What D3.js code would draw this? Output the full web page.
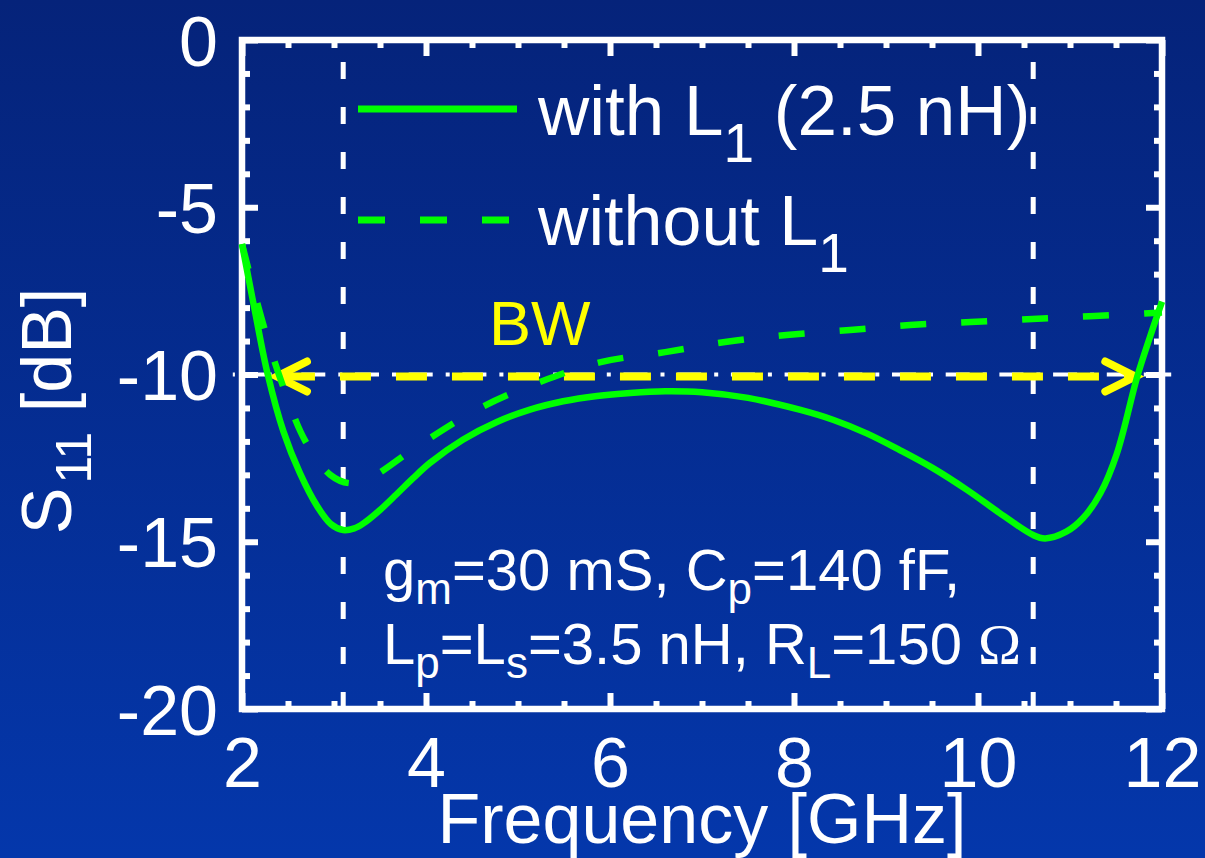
<!DOCTYPE html>
<html>
<head>
<meta charset="utf-8">
<script src="https://cdn.jsdelivr.net/npm/d3@7"></script>
<style>
  html, body { margin: 0; padding: 0; background: #052a90; }
  svg { display: block; }
  text { font-family: Arial, "Liberation Sans", Helvetica, sans-serif; }
</style>
</head>
<body>
<svg id="chart" width="1205" height="858"></svg>
<script>
// S11 of the wideband LNA input match, with and without the series inductor L1
const freqWithL1 = [2.0, 2.14, 2.28, 2.45, 2.63, 2.82, 2.97, 3.1, 3.22, 3.32, 3.5, 3.68, 3.86, 4.04, 4.4, 4.77, 5.13, 5.49, 5.86, 6.22, 6.6, 7.0, 7.5, 8.07, 8.43, 8.79, 9.15, 9.51, 9.88, 10.24, 10.6, 10.73, 10.96, 11.14, 11.33, 11.51, 11.73, 11.87, 12.0];
const s11WithL1  = [-6.1, -8.1, -10.0, -11.7, -12.95, -13.95, -14.48, -14.65, -14.6, -14.45, -14.05, -13.58, -13.1, -12.65, -11.95, -11.42, -11.05, -10.8, -10.64, -10.55, -10.5, -10.53, -10.7, -11.06, -11.36, -11.76, -12.26, -12.8, -13.45, -14.15, -14.8, -14.9, -14.7, -14.3, -13.55, -12.36, -10.07, -8.87, -7.82];

const freqNoL1 = [2.0, 2.21, 2.42, 2.69, 2.96, 3.17, 3.39, 3.91, 4.59, 5.26, 5.9, 6.6, 7.25, 7.92, 8.61, 9.26, 9.92, 10.59, 11.27, 12.0];
const s11NoL1  = [-6.1, -8.3, -10.15, -12.0, -13.0, -13.25, -13.1, -12.14, -11.0, -10.2, -9.63, -9.33, -9.03, -8.82, -8.67, -8.52, -8.43, -8.34, -8.25, -8.15];

const xTickValues = [2, 4, 6, 8, 10, 12];
const xTickLabels = ["2", "4", "6", "8", "10", "12"];
const yTickValues = [0, -5, -10, -15, -20];
const yTickLabels = ["0", "-5", "-10", "-15", "-20"];
const xMinorTicks = d3.range(2, 12.01, 0.5);
const yMinorTicks = d3.range(-20, 0.01, 1);

const bandEdges = [3.1, 10.6];     // UWB band limits, GHz
const bwLevel = -10;               // dB
const bwRange = [2.38, 11.71];     // GHz, where S11 crosses -10 dB

const svg = d3.select("#chart");
const W = 1205, H = 858;

// background gradient
const defs = svg.append("defs");
const grad = defs.append("linearGradient").attr("id", "bg")
  .attr("x1", 0).attr("y1", 0).attr("x2", 0).attr("y2", 1);
grad.append("stop").attr("offset", "0%").attr("stop-color", "#05237a");
grad.append("stop").attr("offset", "100%").attr("stop-color", "#0437ab");
svg.append("rect").attr("width", W).attr("height", H).attr("fill", "url(#bg)");

const x = d3.scaleLinear().domain([2, 12]).range([242, 1162]);
const y = d3.scaleLinear().domain([-20, 0]).range([709, 40]);
const [x0, x1] = x.range();
const [y0, y1] = y.range();

const white = "#ffffff", green = "#00ff00", yellow = "#ffff00";

// inward ticks on all four sides
function tickLayer(axisFn, transform, values, size) {
  const g = svg.append("g").attr("transform", transform)
    .call(axisFn.tickValues(values).tickSize(size).tickFormat(""));
  g.select(".domain").remove();
  g.selectAll(".tick line").attr("stroke", white).attr("stroke-width", 6);
  return g;
}
const minorX = xMinorTicks.filter(v => !xTickValues.includes(v));
const minorY = yMinorTicks.filter(v => !yTickValues.includes(v));
tickLayer(d3.axisBottom(x), `translate(0,${y0})`, xTickValues, -16);
tickLayer(d3.axisBottom(x), `translate(0,${y0})`, minorX, -8);
tickLayer(d3.axisTop(x), `translate(0,${y1})`, xTickValues, -16);
tickLayer(d3.axisTop(x), `translate(0,${y1})`, minorX, -8);
tickLayer(d3.axisLeft(y), `translate(${x0},0)`, yTickValues, -16);
tickLayer(d3.axisLeft(y), `translate(${x0},0)`, minorY, -8);
tickLayer(d3.axisRight(y), `translate(${x1},0)`, yTickValues, -16);
tickLayer(d3.axisRight(y), `translate(${x1},0)`, minorY, -8);

// frame
svg.append("rect")
  .attr("x", x0).attr("y", y1).attr("width", x1 - x0).attr("height", y0 - y1)
  .attr("fill", "none").attr("stroke", white).attr("stroke-width", 6.5);

// tick labels
const xLab = svg.append("g").attr("transform", `translate(0,${y0})`)
  .call(d3.axisBottom(x).tickValues(xTickValues).tickSize(0).tickPadding(28)
    .tickFormat((d, i) => xTickLabels[i]));
xLab.select(".domain").remove();
xLab.selectAll("text").attr("font-size", 70).attr("fill", white)
  .style("font-family", "Arial, 'Liberation Sans', sans-serif");

const yLab = svg.append("g").attr("transform", `translate(${x0},0)`)
  .call(d3.axisLeft(y).tickValues(yTickValues).tickSize(0).tickPadding(24)
    .tickFormat((d, i) => yTickLabels[i]));
yLab.select(".domain").remove();
yLab.selectAll("text").attr("font-size", 70).attr("fill", white).attr("dy", "0.36em")
  .style("font-family", "Arial, 'Liberation Sans', sans-serif");

// band-edge markers
svg.selectAll("line.edge").data(bandEdges).enter().append("line")
  .attr("class", "edge")
  .attr("x1", d => x(d)).attr("x2", d => x(d))
  .attr("y1", y(-20)).attr("y2", y(0))
  .attr("stroke", white).attr("stroke-width", 5)
  .attr("stroke-dasharray", "17,28");

// -10 dB reference, dash-dot
svg.append("line")
  .attr("x1", x(1.9)).attr("x2", x(12.1))
  .attr("y1", y(bwLevel)).attr("y2", y(bwLevel))
  .attr("stroke", white).attr("stroke-width", 4)
  .attr("stroke-dasharray", "24,13,4,12.7")
  .attr("stroke-dashoffset", 38.9);

// bandwidth double arrow
const bwY = y(bwLevel) + 2;
svg.append("line")
  .attr("x1", x(bwRange[0])).attr("x2", x(bwRange[1]))
  .attr("y1", bwY).attr("y2", bwY)
  .attr("stroke", yellow).attr("stroke-width", 8)
  .attr("stroke-dasharray", "31,25").attr("stroke-dashoffset", -7);
const headL = 30, headH = 15;
[[bwRange[0], 1], [bwRange[1], -1]].forEach(([f, dir]) => {
  const tx = x(f);
  svg.append("path")
    .attr("d", `M${tx + dir * headL},${bwY - headH} L${tx},${bwY} L${tx + dir * headL},${bwY + headH}`)
    .attr("fill", "none").attr("stroke", yellow).attr("stroke-width", 8)
    .attr("stroke-linecap", "round").attr("stroke-linejoin", "miter");
});

// curves
const line = d3.line().x(d => x(d[0])).y(d => y(d[1])).curve(d3.curveCatmullRom.alpha(0.5));
svg.append("path")
  .datum(d3.zip(freqNoL1, s11NoL1))
  .attr("d", line)
  .attr("fill", "none").attr("stroke", green).attr("stroke-width", 6.5)
  .attr("stroke-dasharray", "26,35");
svg.append("path")
  .datum(d3.zip(freqWithL1, s11WithL1))
  .attr("d", line)
  .attr("fill", "none").attr("stroke", green).attr("stroke-width", 6.5)
  .attr("stroke-linejoin", "round");

// text with sub-scripts
function rich(parent, px, py, size, parts, color) {
  const t = parent.append("text").attr("x", px).attr("y", py)
    .attr("font-size", size).attr("fill", color || white);
  let shift = 0;
  parts.forEach(p => {
    const target = p.sub ? p.sub : 0;
    const ts = t.append("tspan").text(p.t)
      .attr("dy", target - shift)
      .attr("font-size", p.size || size);
    if (p.font) ts.style("font-family", p.font);
    shift = target;
  });
  return t;
}

// legend
svg.append("line").attr("x1", 358).attr("x2", 517).attr("y1", 109).attr("y2", 109)
  .attr("stroke", green).attr("stroke-width", 7);
svg.append("line").attr("x1", 358).attr("x2", 509).attr("y1", 220).attr("y2", 220)
  .attr("stroke", green).attr("stroke-width", 7).attr("stroke-dasharray", "27,35");
rich(svg, 538, 135, 71, [
  { t: "with L" }, { t: "1", sub: 27, size: 55 }, { t: " (2.5 nH)" }
]);
rich(svg, 538, 245, 70, [
  { t: "without L" }, { t: "1", sub: 27, size: 55 }
]);

// bandwidth label
svg.append("text").attr("x", 489).attr("y", 345).attr("font-size", 63)
  .attr("fill", yellow).text("BW");

// circuit parameters
rich(svg, 383, 590, 58, [
  { t: "g" }, { t: "m", sub: 14, size: 44 }, { t: "=30 mS, C" },
  { t: "p", sub: 14, size: 44 }, { t: "=140 fF," }
]);
rich(svg, 383, 664, 58, [
  { t: "L" }, { t: "p", sub: 14, size: 44 }, { t: "=L" },
  { t: "s", sub: 14, size: 44 }, { t: "=3.5 nH, R" },
  { t: "L", sub: 14, size: 44 }, { t: "=150 " },
  { t: "\u03A9", font: "'Liberation Serif', 'DejaVu Serif', serif" }
]);

// axis titles
svg.append("text").attr("x", (x0 + x1) / 2).attr("y", 843)
  .attr("text-anchor", "middle").attr("font-size", 70).attr("fill", white)
  .text("Frequency [GHz]");
const yTitle = svg.append("g").attr("transform", "translate(71,411) rotate(-90)");
const yt = yTitle.append("text").attr("text-anchor", "middle").attr("font-size", 70)
  .attr("fill", white);
yt.append("tspan").text("S");
yt.append("tspan").text("11").attr("font-size", 50).attr("dy", 20).attr("dx", 4);
yt.append("tspan").text(" [dB]").attr("dy", -20);
</script>
</body>
</html>
